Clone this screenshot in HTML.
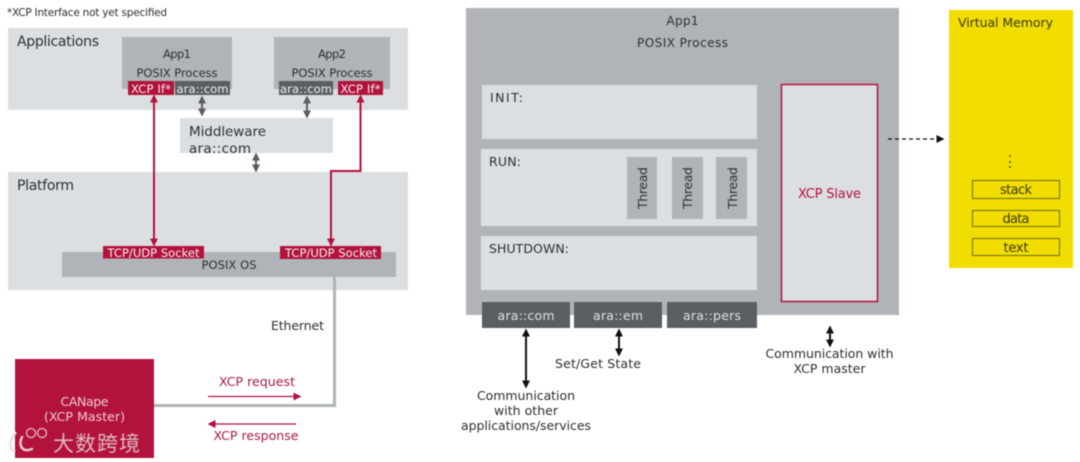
<!DOCTYPE html>
<html><head><meta charset="utf-8"><style>
html,body{margin:0;padding:0;background:#fff;width:1080px;height:462px;overflow:hidden}
svg{display:block;filter:blur(.4px)}
text{font-family:"DejaVu Sans","Liberation Sans","Noto Sans CJK SC",sans-serif;fill:#2b3034;font-size:12px}
.m{text-anchor:middle}
.w{fill:#f0f1f3}
.r{fill:#a8193f}
</style></head><body>
<svg width="1080" height="462" viewBox="0 0 1080 462" xmlns="http://www.w3.org/2000/svg">
<defs>
<marker id="ar" markerWidth="9" markerHeight="9" refX="6.5" refY="4" orient="auto-start-reverse" markerUnits="userSpaceOnUse"><path d="M0 0L8 4L0 8z" fill="#b3123d"/></marker>
<marker id="ag" markerWidth="9" markerHeight="9" refX="6.5" refY="4" orient="auto-start-reverse" markerUnits="userSpaceOnUse"><path d="M0 0L8 4L0 8z" fill="#5a5f63"/></marker>
<marker id="ak" markerWidth="9" markerHeight="9" refX="6.5" refY="4" orient="auto-start-reverse" markerUnits="userSpaceOnUse"><path d="M0 0L8 4L0 8z" fill="#111"/></marker>
</defs>
<rect width="1080" height="462" fill="#fff"/>

<!-- Left diagram -->
<text x="7" y="16" style="font-size:10.500px" textLength="160">*XCP Interface not yet specified</text>
<rect x="8" y="28" width="400" height="82" fill="#dcdfe2"/>
<text x="17" y="46" style="font-size:14px" textLength="82">Applications</text>
<rect x="122" y="37" width="110" height="52" fill="#b0b4b8"/>
<rect x="274" y="37" width="116" height="52" fill="#b0b4b8"/>
<text x="177" y="58" class="m" style="font-size:11.500px" textLength="28">App1</text>
<text x="177" y="77" class="m" style="font-size:11.500px" textLength="81">POSIX Process</text>
<text x="332" y="58" class="m" style="font-size:11.500px" textLength="28">App2</text>
<text x="332" y="77" class="m" style="font-size:11.500px" textLength="81">POSIX Process</text>
<rect x="128" y="81" width="46" height="14" fill="#b3123d"/>
<rect x="175" y="81" width="55" height="14" fill="#5a5f63"/>
<rect x="279" y="81" width="54" height="14" fill="#5a5f63"/>
<rect x="338" y="81" width="45" height="14" fill="#b3123d"/>
<text x="151" y="93" class="m w" style="font-size:11.500px" textLength="40">XCP If*</text>
<text x="202.500" y="93" class="m w" style="font-size:11.500px" textLength="52">ara::com</text>
<text x="306" y="93" class="m w" style="font-size:11.500px" textLength="52">ara::com</text>
<text x="360.500" y="93" class="m w" style="font-size:11.500px" textLength="40">XCP If*</text>

<rect x="180" y="118" width="153" height="35" fill="#dcdfe2"/>
<text x="189" y="136" style="font-size:13.500px" textLength="77">Middleware</text>
<text x="189" y="153" style="font-size:13.500px" textLength="62">ara::com</text>

<rect x="8" y="172" width="400" height="118" fill="#dcdfe2"/>
<text x="17" y="190" style="font-size:14px" textLength="57">Platform</text>
<rect x="62" y="252" width="334" height="25" fill="#b0b4b8"/>
<text x="229" y="269" class="m" style="font-size:11.500px" textLength="55">POSIX OS</text>
<rect x="103" y="246" width="101" height="12.500" fill="#b3123d"/>
<rect x="280" y="246" width="101" height="13" fill="#b3123d"/>
<text x="153.500" y="257" class="m w" style="font-size:11.500px" textLength="92">TCP/UDP Socket</text>
<text x="331" y="257" class="m w" style="font-size:11.500px" textLength="92">TCP/UDP Socket</text>

<path d="M154 96V245" stroke="#b3123d" stroke-width="2" fill="none" marker-start="url(#ar)" marker-end="url(#ar)"/>
<path d="M360.500 96V171H331V245" stroke="#b3123d" stroke-width="2" fill="none" marker-start="url(#ar)" marker-end="url(#ar)"/>
<path d="M202 97V115" stroke="#5a5f63" stroke-width="2" fill="none" marker-start="url(#ag)" marker-end="url(#ag)"/>
<path d="M307 97V117" stroke="#5a5f63" stroke-width="2" fill="none" marker-start="url(#ag)" marker-end="url(#ag)"/>
<path d="M256 154V171" stroke="#5a5f63" stroke-width="2" fill="none" marker-start="url(#ag)" marker-end="url(#ag)"/>

<path d="M334.500 277V405.500H154" stroke="#b0b4b8" stroke-width="3" fill="none"/>
<text x="271" y="330" style="font-size:12.500px" textLength="53">Ethernet</text>
<rect x="15" y="359" width="139" height="99" fill="#b3123d"/>
<text x="84.500" y="406" class="m" style="font-size:12.500px;fill:#eccbd3" textLength="48">CANape</text>
<text x="84.500" y="421" class="m" style="font-size:12.500px;fill:#eccbd3" textLength="81">(XCP Master)</text>
<text x="257" y="386" class="m r" style="font-size:12.500px" textLength="76">XCP request</text>
<path d="M208 396.500H300" stroke="#b3123d" stroke-width="1.200" fill="none" marker-end="url(#ar)"/>
<path d="M296 424H209" stroke="#b3123d" stroke-width="1.200" fill="none" marker-end="url(#ar)"/>
<text x="256" y="440" class="m r" style="font-size:12.500px" textLength="85">XCP response</text>

<!-- Watermark -->
<path d="M15 433C9 441 9 449 14 451" stroke="#e8e8e8" stroke-width="3" fill="none" stroke-linecap="round"/>
<path d="M22 437C18 445 22 453 32 449" stroke="#e8c8d0" stroke-width="2.500" fill="none" stroke-linecap="round"/>
<circle cx="31" cy="433" r="4.500" fill="none" stroke="#e3bcc6" stroke-width="1.300"/>
<circle cx="42" cy="433" r="4.500" fill="none" stroke="#e3bcc6" stroke-width="1.300"/>
<text x="53" y="451" style="font-size:21px;fill:#dbb8c2;font-family:'Noto Sans CJK SC','WenQuanYi Zen Hei',sans-serif" textLength="87">大数跨境</text>

<!-- Right diagram -->
<rect x="466" y="8" width="433" height="307" fill="#b0b4b8"/>
<text x="682.500" y="25" class="m" style="font-size:12px" textLength="32">App1</text>
<text x="682.500" y="47" class="m" style="font-size:12px" textLength="91">POSIX Process</text>
<rect x="482" y="85" width="275" height="54" fill="#dcdfe2"/>
<rect x="481" y="149" width="276" height="77" fill="#dcdfe2"/>
<rect x="481" y="236" width="276" height="54" fill="#dcdfe2"/>
<text x="490" y="102" style="font-size:12.500px" textLength="33">INIT:</text>
<text x="489" y="166" style="font-size:12.500px" textLength="32">RUN:</text>
<text x="489" y="253" style="font-size:12.500px" textLength="80">SHUTDOWN:</text>
<rect x="627" y="157" width="30" height="62" fill="#b0b4b8"/>
<rect x="672" y="157" width="31" height="62" fill="#b0b4b8"/>
<rect x="716" y="157" width="31" height="62" fill="#b0b4b8"/>
<text transform="translate(647,209) rotate(-90)" style="font-size:12.500px" textLength="42">Thread</text>
<text transform="translate(692,209) rotate(-90)" style="font-size:12.500px" textLength="42">Thread</text>
<text transform="translate(737,209) rotate(-90)" style="font-size:12.500px" textLength="42">Thread</text>

<rect x="482" y="302" width="88" height="26" fill="#5a5f63"/>
<rect x="574" y="302" width="88" height="26" fill="#5a5f63"/>
<rect x="667" y="302" width="90" height="26" fill="#5a5f63"/>
<text x="526" y="320" class="m" style="font-size:12.500px;fill:#dfe1e3" textLength="57">ara::com</text>
<text x="618" y="320" class="m" style="font-size:12.500px;fill:#dfe1e3" textLength="50">ara::em</text>
<text x="712" y="320" class="m" style="font-size:12.500px;fill:#dfe1e3" textLength="58">ara::pers</text>

<rect x="781.500" y="84.500" width="96" height="217" fill="#dcdfe2" stroke="#b3123d" stroke-width="1.500"/>
<text x="829.500" y="198" class="m" style="font-size:13px;fill:#b3123d" textLength="63">XCP Slave</text>

<path d="M526 330V387" stroke="#111" stroke-width="2" fill="none" marker-start="url(#ak)" marker-end="url(#ak)"/>
<path d="M619 330V355" stroke="#111" stroke-width="2" fill="none" marker-start="url(#ak)" marker-end="url(#ak)"/>
<path d="M830 327V346" stroke="#111" stroke-width="2" fill="none" marker-start="url(#ak)" marker-end="url(#ak)"/>
<text x="598" y="368" class="m" style="font-size:12.500px" textLength="86">Set/Get State</text>
<text x="526" y="400" class="m" style="font-size:12.500px" textLength="98">Communication</text>
<text x="526" y="415" class="m" style="font-size:12.500px" textLength="64">with other</text>
<text x="526" y="430" class="m" style="font-size:12.500px" textLength="130">applications/services</text>
<text x="829.500" y="358" class="m" style="font-size:12.500px" textLength="128">Communication with</text>
<text x="829.500" y="373" class="m" style="font-size:12.500px" textLength="72">XCP master</text>

<path d="M888 139H943" stroke="#111" stroke-width="1.300" stroke-dasharray="4 3" fill="none" marker-end="url(#ak)"/>

<rect x="949" y="10" width="124" height="258" fill="#f2dd00"/>
<text x="958" y="27" style="font-size:12.500px;fill:#3a3a1a" textLength="95">Virtual Memory</text>
<circle cx="1010" cy="156" r="1" fill="#55551a"/>
<circle cx="1010" cy="162" r="1" fill="#55551a"/>
<circle cx="1010" cy="167" r="1" fill="#55551a"/>
<rect x="972.500" y="180.500" width="87" height="18" fill="none" stroke="#6f6a1a" stroke-width="1"/>
<rect x="972.500" y="210.500" width="87" height="16" fill="none" stroke="#6f6a1a" stroke-width="1"/>
<rect x="972.500" y="238.500" width="87" height="17" fill="none" stroke="#6f6a1a" stroke-width="1"/>
<text x="1016" y="194" class="m" style="font-size:13px;fill:#3a3a1a" textLength="32">stack</text>
<text x="1016" y="223" class="m" style="font-size:13px;fill:#3a3a1a" textLength="27">data</text>
<text x="1016" y="252" class="m" style="font-size:13px;fill:#3a3a1a" textLength="25">text</text>
</svg>
</body></html>
